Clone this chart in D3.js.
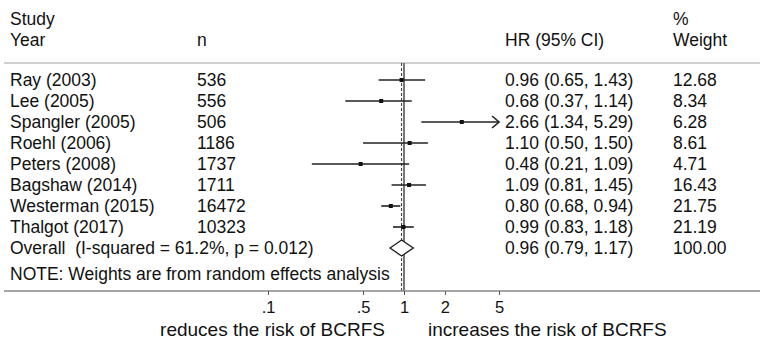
<!DOCTYPE html>
<html>
<head>
<meta charset="utf-8">
<script src="https://cdn.jsdelivr.net/npm/d3@7"></script>
<style>
  body { margin: 0; background: #fff; }
  text { font-family: "Liberation Sans", Arial, sans-serif; fill: #111; }
</style>
</head>
<body>
<div id="chart"></div>
<script>
const studies = ['Ray (2003)', 'Lee (2005)', 'Spangler (2005)', 'Roehl (2006)', 'Peters (2008)', 'Bagshaw (2014)', 'Westerman (2015)', 'Thalgot (2017)'];
const sizes = [536, 556, 506, 1186, 1737, 1711, 16472, 10323];
const hr = [0.96, 0.68, 2.66, 1.10, 0.48, 1.09, 0.80, 0.99];
const lower = [0.65, 0.37, 1.34, 0.50, 0.21, 0.81, 0.68, 0.83];
const upper = [1.43, 1.14, 5.29, 1.50, 1.09, 1.45, 0.94, 1.18];
const weights = [12.68, 8.34, 6.28, 8.61, 4.71, 16.43, 21.75, 21.19];
const overall = { label: 'Overall  (I-squared = 61.2%, p = 0.012)', hr: 0.96, lo: 0.79, hi: 1.17, w: 100 };
const ticks = [0.1, 0.5, 1, 2, 5];
const tickLabels = ['.1', '.5', '1', '2', '5'];

const w = 763, h = 341;
const fs = 17.5;
const svg = d3.select('#chart').append('svg').attr('width', w).attr('height', h);

// log scale, 136px per decade, 1 sits at x=404
const x = d3.scaleLog().domain([0.1, 5]).range([268, 268 + 136 * Math.log10(50)]);
const y = d3.scaleLinear().domain([0, 1]).range([80, 101]);

const col = { study: 10, n: 197, hr: 505, wt: 673 };
const fmt = d3.format('.2f');
const topY = 63, axisY = 291;

// header
const hdr = svg.append('g').style('font-size', fs + 'px');
hdr.append('text').attr('x', col.study).attr('y', 25).text('Study');
hdr.append('text').attr('x', col.study).attr('y', 46).text('Year');
hdr.append('text').attr('x', col.n).attr('y', 46).text('n');
hdr.append('text').attr('x', col.hr).attr('y', 46).text('HR (95% CI)');
hdr.append('text').attr('x', col.wt).attr('y', 25).text('%');
hdr.append('text').attr('x', col.wt).attr('y', 46).text('Weight');

svg.append('line').attr('x1', 4).attr('x2', 760).attr('y1', topY).attr('y2', topY)
  .attr('stroke', '#d0d0d0').attr('stroke-width', 2);

// reference lines
svg.append('line').attr('x1', x(1)).attr('x2', x(1)).attr('y1', topY).attr('y2', axisY)
  .attr('stroke', '#777').attr('stroke-width', 2);
svg.append('line').attr('x1', x(overall.hr)).attr('x2', x(overall.hr)).attr('y1', topY).attr('y2', axisY)
  .attr('stroke', '#333').attr('stroke-width', 1).attr('stroke-dasharray', '3,2');

// study rows
const data = studies.map((s, i) => ({ s, n: sizes[i], hr: hr[i], lo: lower[i], hi: upper[i], w: weights[i], i }));
const [dmin, dmax] = x.domain();

const rows = svg.append('g').selectAll('g').data(data).enter().append('g')
  .attr('transform', d => `translate(0,${y(d.i)})`);

rows.append('line')
  .attr('x1', d => x(Math.max(d.lo, dmin))).attr('x2', d => x(Math.min(d.hi, dmax)))
  .attr('stroke', '#222').attr('stroke-width', 1.6);
rows.filter(d => d.hi > dmax).append('path')
  .attr('d', `M${x(dmax) - 7},-6L${x(dmax)},0L${x(dmax) - 7},6`)
  .attr('fill', 'none').attr('stroke', '#222').attr('stroke-width', 1.6);
rows.append('rect')
  .attr('x', d => x(d.hr) - 2).attr('y', -2).attr('width', 4).attr('height', 4).attr('fill', '#111');

const tY = 0.36 * fs;
rows.append('text').attr('x', col.study).attr('y', tY).style('font-size', fs + 'px').text(d => d.s);
rows.append('text').attr('x', col.n).attr('y', tY).style('font-size', fs + 'px').text(d => d.n);
rows.append('text').attr('x', col.hr).attr('y', tY).style('font-size', fs + 'px')
  .text(d => `${fmt(d.hr)} (${fmt(d.lo)}, ${fmt(d.hi)})`);
rows.append('text').attr('x', col.wt).attr('y', tY).style('font-size', fs + 'px').text(d => fmt(d.w));

// overall
const oy = y(studies.length);
svg.append('path')
  .attr('d', `M${x(overall.lo)},${oy}L${x(overall.hr)},${oy - 8}L${x(overall.hi)},${oy}L${x(overall.hr)},${oy + 8}Z`)
  .attr('fill', '#fff').attr('stroke', '#222').attr('stroke-width', 1.4);
const og = svg.append('g').style('font-size', fs + 'px');
og.append('text').attr('x', col.study).attr('y', oy + tY).attr('xml:space', 'preserve').text(overall.label);
og.append('text').attr('x', col.hr).attr('y', oy + tY)
  .text(`${fmt(overall.hr)} (${fmt(overall.lo)}, ${fmt(overall.hi)})`);
og.append('text').attr('x', col.wt).attr('y', oy + tY).text(fmt(overall.w));

svg.append('text').attr('x', col.study).attr('y', 274 + tY).style('font-size', fs + 'px')
  .text('NOTE: Weights are from random effects analysis');

// axis
svg.append('line').attr('x1', 4).attr('x2', 760).attr('y1', axisY).attr('y2', axisY)
  .attr('stroke', '#888').attr('stroke-width', 1.6);
const axis = d3.axisBottom(x).tickValues(ticks).tickFormat((d, i) => tickLabels[i]).tickSize(4).tickPadding(6);
const ag = svg.append('g').attr('transform', `translate(0,${axisY})`).call(axis);
ag.select('.domain').remove();
ag.selectAll('.tick line').attr('stroke', '#555');
ag.selectAll('.tick text').style('font-size', '16.5px').attr('fill', '#111')
  .style('font-family', '"Liberation Sans", Arial, sans-serif');

svg.append('text').attr('x', x(1) - 19).attr('y', 336).attr('text-anchor', 'end').style('font-size', '19px')
  .text('reduces the risk of BCRFS');
svg.append('text').attr('x', x(1) + 24).attr('y', 336).style('font-size', '19px')
  .text('increases the risk of BCRFS');
</script>
</body>
</html>
